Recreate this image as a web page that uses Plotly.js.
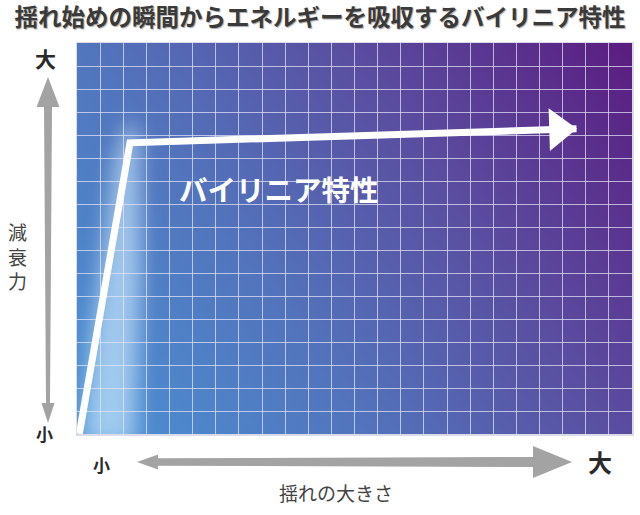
<!DOCTYPE html>
<html>
<head>
<meta charset="utf-8">
<script src="https://cdn.plot.ly/plotly-3.0.1.min.js"></script>
<style>
  body { margin: 0; background: #fff; }
  #myDiv { width: 640px; height: 515px; }
</style>
</head>
<body>
<div id="myDiv"></div>
<script>
// bilinear curve, in grid cells (24 x 17 grid)
var xCurve = [0.1, 2.29, 21.6];
var yCurve = [0, 12.66, 13.27];
var curveLabel = 'バイリニア特性';
var xLabel = '揺れの大きさ';
var yLabel = '減衰力';
var lowLabel = '小';
var highLabel = '大';

var W = 640, H = 515;
var L = 77, R = 632, T = 43, B = 434;

// pixel -> paper helpers for decoration
function px(X) { return (X - L) / (R - L); }
function py(Y) { return (B - Y) / (B - T); }
function P(X, Y) { return px(X) + ',' + py(Y); }

/**
 * background gradient + glow drawn on a canvas
 */
function makeBackground() {
    var cw = R - L, ch = B - T;
    var c = document.createElement('canvas');
    c.width = cw; c.height = ch;
    var ctx = c.getContext('2d');
    var g = ctx.createLinearGradient(0, ch, cw, 0);
    g.addColorStop(0, '#4b92d4');
    g.addColorStop(0.35, '#5274bc');
    g.addColorStop(0.65, '#5a4ea0');
    g.addColorStop(1, '#5a1c80');
    ctx.fillStyle = g;
    ctx.fillRect(0, 0, cw, ch);

    ctx.filter = 'blur(10px)';
    ctx.fillStyle = 'rgba(205,235,255,0.65)';
    ctx.beginPath();
    ctx.moveTo(6, ch + 10);
    ctx.lineTo(58, ch + 10);
    ctx.lineTo(64, 230);
    ctx.lineTo(62, 95);
    ctx.lineTo(52, 75);
    ctx.lineTo(38, 115);
    ctx.lineTo(14, 300);
    ctx.closePath();
    ctx.fill();
    ctx.filter = 'none';
    return c.toDataURL('image/png');
}

function arrowV() {
    return 'M' + P(48, 77) + ' L' + P(59.5, 107) + ' L' + P(52, 107) +
        ' L' + P(50, 403) + ' L' + P(54.5, 403) + ' L' + P(48, 423) +
        ' L' + P(41.5, 403) + ' L' + P(46, 403) + ' L' + P(44, 107) +
        ' L' + P(36.5, 107) + ' Z';
}

function arrowH() {
    return 'M' + P(137, 462) + ' L' + P(158, 454.5) + ' L' + P(158, 458.3) +
        ' L' + P(533, 457) + ' L' + P(533, 446) + ' L' + P(572, 462) +
        ' L' + P(533, 478) + ' L' + P(533, 467) + ' L' + P(158, 465.7) +
        ' L' + P(158, 469.5) + ' Z';
}

function label(text, X, Y, size, color) {
    return {
        text: text, x: px(X), y: py(Y), xref: 'paper', yref: 'paper',
        xanchor: 'center', yanchor: 'middle', showarrow: false,
        font: { family: 'Noto Sans CJK JP', size: size, color: color }
    };
}

function plot() {
    var trace = {
        type: 'scatter',
        x: xCurve,
        y: yCurve,
        mode: 'lines+markers',
        line: { color: '#ffffff', width: 7 },
        marker: {
            color: '#ffffff',
            opacity: 1,
            symbol: ['circle', 'circle', 'triangle-up'],
            size: [0, 0, 37],
            angleref: 'previous',
            standoff: [0, 0, 18],
            line: { width: 0, color: '#ffffff' }
        },
        hoverinfo: 'skip',
        cliponaxis: true,
        showlegend: false
    };

    var axisCommon = {
        dtick: 1,
        tick0: 0,
        showticklabels: false,
        ticks: '',
        showgrid: true,
        gridcolor: 'rgba(230,230,248,0.72)',
        gridwidth: 1,
        zeroline: false,
        showline: true,
        linecolor: 'rgba(215,215,232,0.9)',
        linewidth: 1.5,
        mirror: true,
        fixedrange: true
    };

    var layout = {
        width: W,
        height: H,
        margin: { l: L, r: W - R, t: T, b: H - B, pad: 0 },
        paper_bgcolor: '#ffffff',
        plot_bgcolor: 'rgba(0,0,0,0)',
        title: {
            text: '<b>揺れ始めの瞬間からエネルギーを吸収するバイリニア特性</b>',
            x: 0.5, xref: 'container', xanchor: 'center',
            y: 1 - 18 / H, yref: 'container', yanchor: 'middle',
            font: { family: 'Noto Sans CJK JP', size: 23.5, color: '#3a3a3a', shadow: '1px 1px 1px #aaa' }
        },
        xaxis: Object.assign({ range: [0, 24] }, axisCommon),
        yaxis: Object.assign({ range: [0, 17] }, axisCommon),
        images: [{
            source: makeBackground(),
            xref: 'paper', yref: 'paper',
            x: 0, y: 1, sizex: 1, sizey: 1,
            xanchor: 'left', yanchor: 'top',
            sizing: 'stretch',
            layer: 'below'
        }],
        shapes: [
            { type: 'path', xref: 'paper', yref: 'paper', path: arrowV(), fillcolor: '#a3a3a3', line: { width: 0 } },
            { type: 'path', xref: 'paper', yref: 'paper', path: arrowH(), fillcolor: '#a3a3a3', line: { width: 0 } }
        ],
        annotations: [
            {
                text: '<b>' + curveLabel + '</b>', x: 8.72, y: 10.67, xref: 'x', yref: 'y',
                xanchor: 'center', yanchor: 'middle',
                showarrow: false, font: { family: 'Noto Sans CJK JP', size: 28.5, color: '#ffffff' }
            },
            label('<b>' + highLabel + '</b>', 45, 58, 21, '#2a2a2a'),
            label('<b>' + lowLabel + '</b>', 44, 433, 17, '#2a2a2a'),
            label(yLabel.split('').join('<br>'), 17, 256, 19, '#444444'),
            label('<b>' + lowLabel + '</b>', 101, 465, 17, '#2a2a2a'),
            label('<b>' + highLabel + '</b>', 600, 462, 24, '#2a2a2a'),
            label(xLabel, 336, 492, 19, '#444444')
        ]
    };

    Plotly.newPlot('myDiv', [trace], layout, { staticPlot: true });
}

plot();
</script>
</body>
</html>
